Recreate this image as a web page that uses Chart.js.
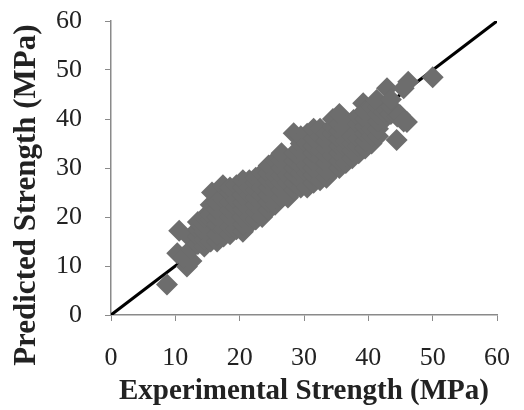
<!DOCTYPE html>
<html>
<head>
<meta charset="utf-8">
<script src="https://cdn.jsdelivr.net/npm/chart.js@4/dist/chart.umd.min.js"></script>
<style>
    html, body { margin: 0; padding: 0; background: #fff; }
    #wrap { width: 524px; height: 410px; }
</style>
</head>
<body>
<div id="wrap"><canvas id="myChart"></canvas></div>
<script>
// Экспериментальная прочность (MPa), по x
const experimental = [
    8.7, 10.6, 10.3, 11.8, 11.2,
    12.5, 12.5, 12.5,
    13.5, 13.5, 13.5, 13.5,
    14.5, 14.5, 14.5, 14.5, 14.5,
    15.5, 15.5, 15.5, 15.5, 15.5, 15.5, 15.7,
    16.5, 16.5, 16.5, 16.5, 16.5, 16.5,
    17.5, 17.5, 17.5, 17.5, 17.5, 17.5, 17.4,
    18.5, 18.5, 18.5, 18.5, 18.5, 18.5, 18.5,
    19.5, 19.5, 19.5, 19.5, 19.5, 19.5, 19.5,
    20.5, 20.5, 20.5, 20.5, 20.5, 20.5, 20.5, 20.5,
    21.5, 21.5, 21.5, 21.5, 21.5, 21.5, 21.5,
    22.5, 22.5, 22.5, 22.5, 22.5, 22.5, 22.5,
    23.5, 23.5, 23.5, 23.5, 23.5, 23.5, 23.5,
    24.5, 24.5, 24.5, 24.5, 24.5, 24.5, 24.5,
    25.5, 25.5, 25.5, 25.5, 25.5, 25.5, 25.5,
    26.5, 26.5, 26.5, 26.5, 26.5, 26.5, 26.5,
    27.5, 27.5, 27.5, 27.5, 27.5, 27.5,
    28.5, 28.5, 28.5, 28.5, 28.5, 28.5, 28.4,
    29.5, 29.5, 29.5, 29.5, 29.5, 29.5, 29.5, 29.5,
    30.5, 30.5, 30.5, 30.5, 30.5, 30.5, 30.5, 30.5,
    31.5, 31.5, 31.5, 31.5, 31.5, 31.5, 31.5, 31.5,
    32.5, 32.5, 32.5, 32.5, 32.5, 32.5, 32.5, 32.5,
    33.5, 33.5, 33.5, 33.5, 33.5, 33.5, 33.5,
    34.5, 34.5, 34.5, 34.5, 34.5, 34.5, 34.5, 34.5,
    35.5, 35.5, 35.5, 35.5, 35.5, 35.5, 35.5, 35.5,
    36.5, 36.5, 36.5, 36.5, 36.5, 36.5,
    37.5, 37.5, 37.5, 37.5, 37.7,
    38.5, 38.5, 38.5, 38.5, 38.5, 38.5, 39.2,
    39.5, 39.5, 39.5, 39.5, 39.5, 39.5,
    40.5, 40.5, 40.5, 40.5, 40.5, 40.5,
    41.5, 41.5, 41.5, 41.5, 41.5, 41.3,
    42.5, 42.5, 42.9, 42.9,
    43.5, 43.5, 43.5,
    44.5, 44.4, 44.9,
    45.5, 46.0, 45.5,
    46.2, 50.0
];

// Прогнозная прочность (MPa), по y
const predicted = [
    6.2, 17.2, 12.6, 9.9, 11.8,
    11.0, 13.5, 15.5,
    14.5, 16.0, 17.5, 19.0,
    14.0, 15.5, 17.0, 18.5, 20.0,
    15.0, 16.5, 19.5, 21.0, 22.5, 20.5, 25.0,
    15.0, 16.5, 18.5, 20.0, 21.5, 23.0,
    16.0, 17.5, 19.0, 21.0, 23.5, 24.0, 26.5,
    16.5, 18.0, 20.0, 21.5, 23.0, 25.0, 26.0,
    17.5, 19.0, 20.5, 22.0, 23.5, 25.0, 26.5,
    17.0, 18.5, 20.0, 21.5, 23.0, 24.5, 26.0, 27.5,
    18.5, 20.0, 21.5, 23.0, 24.5, 26.0, 27.5,
    19.5, 21.0, 22.5, 24.0, 25.5, 27.0, 28.0,
    20.0, 21.5, 23.0, 24.5, 26.0, 27.5, 29.0,
    21.5, 23.0, 24.5, 26.0, 27.5, 29.0, 30.5,
    22.5, 24.0, 25.5, 27.0, 28.5, 30.0, 31.5,
    24.0, 25.5, 27.0, 28.5, 30.0, 31.5, 33.0,
    24.0, 25.5, 27.0, 28.5, 30.0, 31.0,
    25.5, 27.0, 28.5, 30.0, 31.5, 33.0, 37.1,
    26.0, 27.5, 29.0, 30.5, 32.0, 33.5, 35.0, 36.5,
    26.0, 27.5, 29.0, 30.5, 32.0, 33.5, 35.0, 37.0,
    27.0, 28.5, 30.0, 31.5, 33.0, 34.5, 36.0, 38.0,
    27.5, 29.0, 30.5, 32.0, 33.5, 35.0, 36.5, 38.0,
    28.0, 29.5, 31.0, 32.5, 34.0, 35.5, 37.0,
    29.5, 31.0, 32.5, 34.0, 35.5, 37.0, 38.5, 40.0,
    30.0, 31.5, 33.0, 34.5, 36.0, 37.5, 39.0, 41.0,
    31.0, 32.5, 34.0, 35.5, 37.0, 38.5,
    32.0, 33.5, 35.0, 36.5, 39.8,
    33.0, 34.5, 36.0, 37.5, 39.0, 40.5, 43.2,
    34.0, 35.5, 37.0, 38.5, 40.0, 41.5,
    35.0, 36.5, 38.0, 39.5, 41.0, 42.5,
    36.5, 38.0, 39.5, 41.0, 42.5, 43.9,
    40.0, 41.5, 41.8, 46.3,
    41.0, 42.5, 44.0,
    40.5, 35.7, 40.8,
    39.5, 39.4, 46.3,
    47.6, 48.5
];

// Линия 1:1
const lineX = [0, 60];
const lineY = [0, 60];

const tickLabels = [0, 10, 20, 30, 40, 50, 60];

const points = experimental.map((x, i) => ({x: x, y: predicted[i]}));
const linePoints = lineX.map((x, i) => ({x: x, y: lineY[i]}));

const fontTicks = {family: 'Liberation Serif', size: 26};
const fontTitleX = {family: 'Liberation Serif', size: 29, weight: 'bold'};
const fontTitleY = {family: 'Liberation Serif', size: 31, weight: 'bold'};

// Убрать авто-отступы оси, чтобы область графика стояла на месте
function noScalePadding(scale) {
    scale.paddingTop = 0;
    scale.paddingBottom = 0;
    scale.paddingLeft = 0;
    scale.paddingRight = 0;
}

new Chart(document.getElementById('myChart'), {
    type: 'scatter',
    data: {
        datasets: [
            {
                label: 'Predicted',
                data: points,
                pointStyle: 'rectRot',
                pointRadius: 11,
                pointHoverRadius: 11,
                backgroundColor: '#6d6d6d',
                borderWidth: 0,
                order: 0
            },
            {
                type: 'line',
                label: 'Ideal',
                data: linePoints,
                borderColor: '#000',
                borderWidth: 3,
                pointRadius: 0,
                order: 1
            }
        ]
    },
    options: {
        responsive: true,
        maintainAspectRatio: false,
        animation: false,
        layout: {autoPadding: false, padding: {left: 0, right: 27, top: 21, bottom: 0}},
        plugins: {legend: {display: false}, tooltip: {enabled: false}},
        scales: {
            x: {
                type: 'linear',
                min: 0,
                max: 60,
                afterBuildTicks: (scale) => { scale.ticks = tickLabels.map(v => ({value: v})); },
                afterFit: (scale) => { scale.height = 95; noScalePadding(scale); },
                border: {color: '#8a8a8a', width: 1.5},
                grid: {drawOnChartArea: false, drawTicks: true, tickLength: 6, color: '#8a8a8a'},
                ticks: {color: '#222', font: fontTicks, padding: 22, maxRotation: 0},
                title: {display: true, text: 'Experimental Strength (MPa)', color: '#222', font: fontTitleX, padding: {top: 0, bottom: 1}}
            },
            y: {
                type: 'linear',
                min: 0,
                max: 60,
                afterBuildTicks: (scale) => { scale.ticks = tickLabels.map(v => ({value: v})); },
                afterFit: (scale) => { scale.width = 111; noScalePadding(scale); },
                border: {color: '#8a8a8a', width: 1.5},
                grid: {drawOnChartArea: false, drawTicks: true, tickLength: 6, color: '#8a8a8a'},
                ticks: {color: '#222', font: fontTicks, padding: 23},
                // хвостовые пробелы сдвигают подпись вниз, как на оригинале
                title: {display: true, text: 'Predicted Strength (MPa)       ', color: '#222', font: fontTitleY, padding: {top: 8, bottom: 0}}
            }
        }
    }
});
</script>
</body>
</html>
